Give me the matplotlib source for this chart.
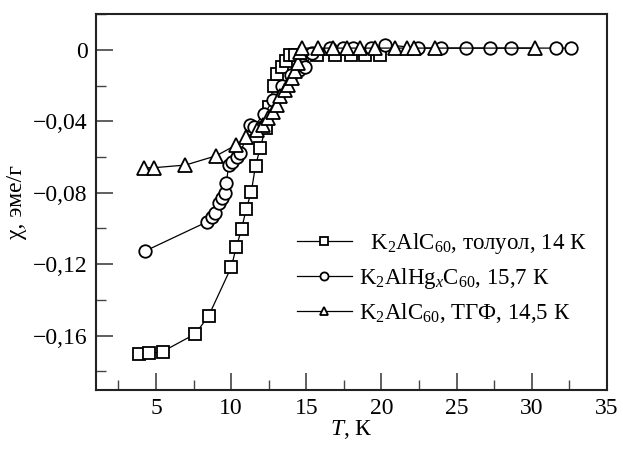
import matplotlib
matplotlib.use("Agg")
import matplotlib.pyplot as plt
from matplotlib.ticker import MultipleLocator, FuncFormatter

plt.rcParams['font.family'] = ['Liberation Serif', 'DejaVu Serif']
plt.rcParams['mathtext.fontset'] = 'custom'
plt.rcParams['mathtext.rm'] = 'Liberation Serif'
plt.rcParams['mathtext.it'] = 'Liberation Serif:italic'

# K2AlC60, toluene
t_sq = [3.84, 4.50, 5.43, 7.62, 8.50, 10.01, 10.34, 10.69, 11.00, 11.34, 11.62, 11.93,
        12.29, 12.53, 12.82, 13.08, 13.37, 13.64, 13.92, 14.26, 15.7, 16.9, 18.0, 18.9, 19.9]
chi_sq = [-0.1705, -0.170, -0.169, -0.159, -0.149, -0.1216, -0.1105, -0.1004, -0.0892,
          -0.0795, -0.0649, -0.0551, -0.0436, -0.032, -0.020, -0.0136, -0.0094, -0.006,
          -0.003, -0.003, -0.003, -0.003, -0.003, -0.003, -0.003]

# K2AlHgxC60
t_ci = [4.24, 8.40, 8.73, 8.95, 9.17, 9.41, 9.61, 9.68, 9.83, 10.06, 10.39, 10.61,
        11.27, 11.49, 12.2, 12.8, 13.4, 14.0, 14.5, 14.8, 14.92, 15.4, 16.58, 17.46,
        18.13, 19.3, 20.23, 22.44, 23.99, 25.65, 27.2, 28.64, 31.62, 32.62]
chi_ci = [-0.1128, -0.0963, -0.0935, -0.0916, -0.086, -0.083, -0.0804, -0.0748, -0.0645,
          -0.0627, -0.0599, -0.058, -0.042, -0.043, -0.036, -0.028, -0.020, -0.014,
          -0.011, -0.0084, -0.0094, -0.002, 0.001, 0.001, 0.001, 0.001, 0.003, 0.001,
          0.001, 0.001, 0.001, 0.001, 0.001, 0.001]

# K2AlC60, THF
t_tr = [4.19, 4.85, 6.96, 9.01, 10.32, 11.0, 11.71, 12.15, 12.46, 12.8, 13.04, 13.26,
        13.59, 13.81, 14.04, 14.26, 14.48, 14.59, 14.70, 15.8, 16.8, 17.7, 18.57, 19.57,
        20.9, 21.67, 22.2, 23.55, 30.19]
chi_tr = [-0.066, -0.066, -0.0645, -0.0593, -0.0533, -0.049, -0.045, -0.042, -0.038,
          -0.0346, -0.031, -0.026, -0.0224, -0.0196, -0.016, -0.012, -0.0075, -0.001,
          0.001, 0.001, 0.001, 0.001, 0.001, 0.001, 0.001, 0.001, 0.001, 0.001, 0.001]

labels = [r"  K$_2$AlC$_{60}$, толуол, 14 К",
          r"K$_2$AlHg$_x$C$_{60}$, 15,7 К",
          r"K$_2$AlC$_{60}$, ТГФ, 14,5 К"]

fig = plt.figure(figsize=(6.23, 4.5), dpi=100)
ax = fig.add_axes([0.154, 0.1333, 0.82, 0.836])

mk = dict(mfc='white', mec='black', mew=1.3, lw=0.9, color='black')
ax.plot(t_sq, chi_sq, marker='s', ms=8, label=labels[0], **mk)
ax.plot(t_ci, chi_ci, marker='o', ms=9, label=labels[1], **mk)
ax.plot(t_tr, chi_tr, marker='^', ms=9.5, label=labels[2], **mk)

ax.set_xlim(1, 35)
ax.set_ylim(-0.1905, 0.0202)
ax.xaxis.set_major_locator(MultipleLocator(5))
ax.xaxis.set_minor_locator(MultipleLocator(2.5))
ax.yaxis.set_major_locator(MultipleLocator(0.04))
ax.yaxis.set_minor_locator(MultipleLocator(0.02))


def yfmt(v, pos):
    if abs(v) < 1e-9:
        return "0"
    return ("%.2f" % v).replace('.', ',').replace('-', '\u2212')


ax.yaxis.set_major_formatter(FuncFormatter(yfmt))
ax.tick_params(which='both', direction='in', top=False, right=False,
               labelsize=17, color='#444444')
ax.tick_params(which='major', length=12, width=1.2, pad=6)
ax.tick_params(which='minor', length=7, width=1.0)
for s in ax.spines.values():
    s.set_linewidth(1.5)
    s.set_color('#222222')

ax.set_xlabel(r"$T$, К", fontsize=17, labelpad=-1)
ax.set_ylabel("χ, эме/г", fontsize=17, labelpad=4)

leg = ax.legend(loc='center right', bbox_to_anchor=(1.0, 0.298), frameon=False,
                fontsize=16.5, handlelength=2.4, handletextpad=0.3, labelspacing=0.45,
                markerscale=0.65)

fig.savefig("out.png", dpi=100)
